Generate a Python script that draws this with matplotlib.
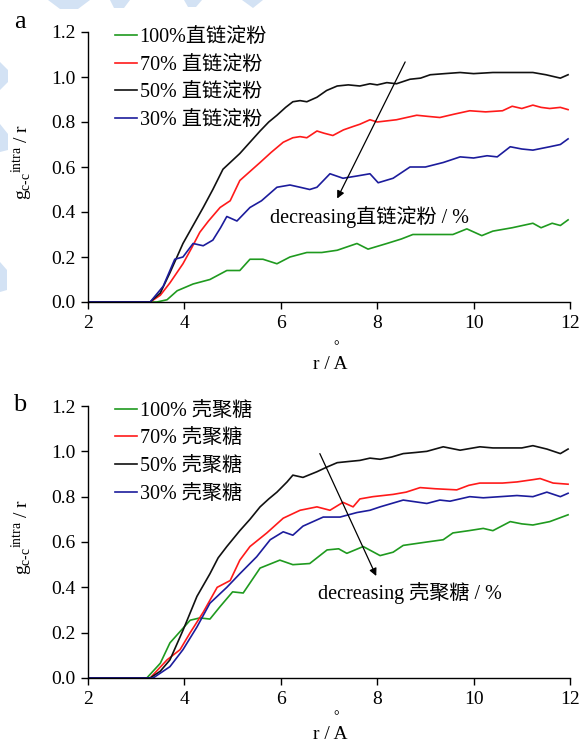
import matplotlib
matplotlib.use("Agg")
import matplotlib.pyplot as plt
from matplotlib.patches import Polygon

plt.rcParams['font.family'] = ['Liberation Serif', 'Noto Sans CJK SC']
plt.rcParams['mathtext.fontset'] = 'custom'
plt.rcParams['mathtext.rm'] = 'Liberation Serif'
plt.rcParams['axes.unicode_minus'] = False

# ---- panel a: amylose (直链淀粉) ----
r_a50 = [2.0, 3.0, 3.29, 3.5, 3.7, 3.97, 4.18, 4.39, 4.59, 4.80, 5.0, 5.15, 5.36, 5.57, 5.75, 5.92,
         6.1, 6.25, 6.4, 6.54, 6.75, 6.95, 7.17, 7.4, 7.64, 7.85, 8.0, 8.2, 8.4, 8.68, 8.9, 9.1,
         9.4, 9.72, 10.0, 10.4, 10.8, 11.23, 11.5, 11.8, 11.96]
g_a50 = [0, 0, 0.0, 0.04, 0.13, 0.26, 0.34, 0.42, 0.50, 0.59, 0.63, 0.66, 0.71, 0.76, 0.80, 0.83,
         0.865, 0.89, 0.895, 0.89, 0.91, 0.94, 0.96, 0.965, 0.96, 0.97, 0.965, 0.975, 0.97, 0.99, 0.995, 1.01,
         1.015, 1.02, 1.015, 1.02, 1.02, 1.02, 1.01, 0.995, 1.01]

r_a70 = [2.0, 3.0, 3.29, 3.5, 3.7, 3.97, 4.15, 4.32, 4.5, 4.74, 4.95, 5.15, 5.36, 5.57, 5.8, 6.05,
         6.25, 6.4, 6.54, 6.75, 6.9, 7.08, 7.3, 7.5, 7.64, 7.85, 8.0, 8.4, 8.82, 9.05, 9.3, 9.6,
         9.92, 10.25, 10.6, 10.8, 11.0, 11.23, 11.4, 11.58, 11.8, 11.96]
g_a70 = [0, 0, 0.0, 0.03, 0.085, 0.17, 0.24, 0.31, 0.36, 0.42, 0.45, 0.54, 0.58, 0.62, 0.665, 0.71,
         0.73, 0.735, 0.73, 0.76, 0.75, 0.74, 0.765, 0.78, 0.79, 0.81, 0.80, 0.81, 0.83, 0.825, 0.82, 0.835,
         0.85, 0.845, 0.85, 0.87, 0.86, 0.875, 0.865, 0.86, 0.865, 0.855]

r_a30 = [2.0, 3.0, 3.29, 3.56, 3.8, 3.97, 4.18, 4.39, 4.59, 4.75, 4.88, 5.09, 5.36, 5.6, 5.92, 6.19,
         6.4, 6.6, 6.75, 7.02, 7.29, 7.58, 7.85, 8.02, 8.33, 8.68, 9.0, 9.37, 9.72, 10.0, 10.28, 10.49,
         10.76, 11.0, 11.23, 11.58, 11.8, 11.96]
g_a30 = [0, 0, 0.0, 0.07, 0.19, 0.20, 0.26, 0.25, 0.275, 0.33, 0.38, 0.36, 0.42, 0.45, 0.51, 0.52,
         0.51, 0.50, 0.51, 0.57, 0.55, 0.56, 0.57, 0.53, 0.55, 0.60, 0.60, 0.62, 0.645, 0.64, 0.65, 0.645,
         0.69, 0.68, 0.675, 0.69, 0.70, 0.725]

r_a100 = [2.0, 3.2, 3.43, 3.64, 3.85, 4.18, 4.53, 4.88, 5.15, 5.36, 5.63, 5.92, 6.19, 6.54, 6.85, 7.17,
          7.58, 7.81, 8.2, 8.5, 8.74, 9.24, 9.57, 9.86, 10.17, 10.4, 10.8, 11.23, 11.4, 11.63, 11.8, 11.96]
g_a100 = [0, 0, 0.0, 0.01, 0.05, 0.08, 0.10, 0.14, 0.14, 0.19, 0.19, 0.17, 0.20, 0.22, 0.22, 0.23,
          0.26, 0.235, 0.26, 0.28, 0.30, 0.30, 0.30, 0.325, 0.295, 0.315, 0.33, 0.35, 0.33, 0.35, 0.34, 0.365]

# ---- panel b: chitosan (壳聚糖) ----
r_b50 = [2.0, 3.0, 3.29, 3.5, 3.7, 3.97, 4.26, 4.53, 4.7, 4.88, 5.15, 5.36, 5.57, 5.75, 5.92, 6.13,
         6.25, 6.46, 6.75, 6.95, 7.17, 7.4, 7.64, 7.85, 8.06, 8.3, 8.54, 8.8, 9.03, 9.37, 9.72, 10.13,
         10.4, 10.76, 11.0, 11.23, 11.52, 11.8, 11.96]
g_b50 = [0, 0, 0.0, 0.03, 0.08, 0.21, 0.36, 0.46, 0.53, 0.58, 0.65, 0.70, 0.755, 0.79, 0.82, 0.865,
         0.895, 0.885, 0.91, 0.93, 0.95, 0.955, 0.96, 0.97, 0.965, 0.975, 0.99, 0.995, 1.0, 1.02, 1.005, 1.02,
         1.015, 1.015, 1.015, 1.025, 1.01, 0.99, 1.01]

r_b70 = [2.0, 3.0, 3.29, 3.64, 3.91, 4.12, 4.39, 4.68, 4.95, 5.15, 5.36, 5.71, 6.05, 6.4, 6.75, 7.02,
         7.29, 7.5, 7.64, 7.91, 8.33, 8.6, 8.89, 9.2, 9.65, 9.9, 10.13, 10.6, 10.9, 11.23, 11.38, 11.65, 11.96]
g_b70 = [0, 0, 0.0, 0.08, 0.125, 0.20, 0.29, 0.40, 0.43, 0.52, 0.58, 0.64, 0.705, 0.74, 0.755, 0.74,
         0.775, 0.755, 0.79, 0.80, 0.81, 0.82, 0.84, 0.835, 0.83, 0.85, 0.86, 0.86, 0.865, 0.875, 0.88, 0.86, 0.855]

r_b30 = [2.0, 3.0, 3.35, 3.7, 3.97, 4.26, 4.53, 4.88, 5.15, 5.5, 5.78, 6.05, 6.25, 6.46, 6.88, 7.23,
         7.58, 7.85, 8.06, 8.54, 9.03, 9.3, 9.51, 9.92, 10.2, 10.55, 10.9, 11.23, 11.52, 11.8, 11.96]
g_b30 = [0, 0, 0.0, 0.05, 0.125, 0.225, 0.33, 0.40, 0.46, 0.535, 0.61, 0.645, 0.63, 0.67, 0.71, 0.71,
         0.73, 0.74, 0.755, 0.785, 0.77, 0.785, 0.78, 0.80, 0.795, 0.80, 0.805, 0.80, 0.82, 0.80, 0.815]

r_b100 = [2.0, 3.0, 3.22, 3.5, 3.7, 3.91, 4.12, 4.32, 4.53, 4.74, 5.0, 5.22, 5.57, 5.98, 6.25, 6.6,
          6.96, 7.2, 7.37, 7.71, 8.06, 8.33, 8.54, 9.03, 9.37, 9.57, 9.9, 10.2, 10.4, 10.76, 11.0, 11.23,
          11.58, 11.96]
g_b100 = [0, 0, 0.0, 0.065, 0.155, 0.205, 0.255, 0.265, 0.26, 0.315, 0.38, 0.375, 0.485, 0.52, 0.50, 0.505,
          0.565, 0.57, 0.55, 0.58, 0.54, 0.555, 0.585, 0.60, 0.61, 0.64, 0.65, 0.66, 0.65, 0.69, 0.68, 0.675,
          0.69, 0.72]

labels_a = ["100%直链淀粉", "70% 直链淀粉", "50% 直链淀粉", "30% 直链淀粉"]
labels_b = ["100% 壳聚糖", "70% 壳聚糖", "50% 壳聚糖", "30% 壳聚糖"]
colors = ["#1f9a1f", "#ff1a1a", "#111111", "#1c1c9c"]

W, H = 579, 742
fig = plt.figure(figsize=(W / 100, H / 100), dpi=100)

# faint background watermark shapes
wm = [
    [(48, 0), (90, 0), (78, 9), (60, 9)],
    [(110, 0), (130, 0), (124, 8), (114, 8)],
    [(184, 0), (202, 0), (196, 7), (188, 7)],
    [(242, 0), (263, 0), (253, 8)],
    [(0, 62), (8, 70), (8, 82), (0, 90)],
    [(0, 124), (8, 134), (8, 150), (0, 152)],
    [(0, 262), (7, 270), (7, 290), (0, 292)],
]
for pts in wm:
    fig.add_artist(Polygon([(x / W, 1 - y / H) for x, y in pts], closed=True,
                           transform=fig.transFigure, color="#d3e2f4", lw=0, zorder=-5))

ax_a = fig.add_axes([88 / W, 1 - 302 / H, 482 / W, 270 / H])
ax_b = fig.add_axes([88 / W, 1 - 678 / H, 482 / W, 272 / H])

# (axes, series, legend labels, note, arrow tail, arrow head, note position, xlabel y, ring y)
panels = [
    (ax_a, [(r_a100, g_a100), (r_a70, g_a70), (r_a50, g_a50), (r_a30, g_a30)], labels_a,
     "decreasing直链淀粉 / %", (8.58, 1.067), (7.17, 0.46), (5.78, 0.38), -0.2, -0.165),
    (ax_b, [(r_b100, g_b100), (r_b70, g_b70), (r_b50, g_b50), (r_b30, g_b30)], labels_b,
     "decreasing 壳聚糖 / %", (6.81, 0.99), (7.98, 0.45), (6.77, 0.375), -0.177, -0.143),
]

for ax, series, labels, note, a_from, a_to, note_xy, xl_y, ring_y in panels:
    for (rx, gy), lab, c in zip(series, labels, colors):
        ax.plot(rx, gy, color=c, lw=1.2, label=lab)
    ax.set_xlim(2, 12)
    ax.set_ylim(0, 1.2)
    ax.set_xticks([2, 4, 6, 8, 10, 12])
    ax.set_yticks([0.0, 0.2, 0.4, 0.6, 0.8, 1.0, 1.2])
    ax.set_yticklabels(["0.0", "0.2", "0.4", "0.6", "0.8", "1.0", "1.2"])
    ax.spines["top"].set_visible(False)
    ax.spines["right"].set_visible(False)
    for s in ("left", "bottom"):
        ax.spines[s].set_linewidth(1.0)
    ax.tick_params(direction="out", length=5, width=1.0, labelsize=14, pad=4)
    ax.patch.set_alpha(0)

    ax.set_ylabel(r"$\mathregular{g_{c\text{-}c}{}^{intra}}$ / r", fontsize=14)
    ax.yaxis.set_label_coords(-0.11, 0.52)
    ax.set_xlabel("r / A", fontsize=14)
    ax.xaxis.set_label_coords(0.502, xl_y)
    ax.text(0.515, ring_y, "°", transform=ax.transAxes, ha="center", va="center", fontsize=10)

    ax.legend(loc="upper left", bbox_to_anchor=(0.04, 1.045), frameon=False, fontsize=14.5,
              handlelength=1.1, handletextpad=0.1, labelspacing=0.42, borderaxespad=0)

    ax.annotate("", xy=a_to, xytext=a_from,
                arrowprops=dict(arrowstyle="-|>", color="black", lw=0.9, mutation_scale=11,
                                shrinkA=0, shrinkB=0))
    ax.text(note_xy[0], note_xy[1], note, ha="left", va="center", fontsize=14.5)

fig.text(20 / W, 1 - 22 / H, "a", ha="center", va="center", fontsize=19)
fig.text(20 / W, 1 - 405 / H, "b", ha="center", va="center", fontsize=19)

fig.savefig("out.png", dpi=100)
